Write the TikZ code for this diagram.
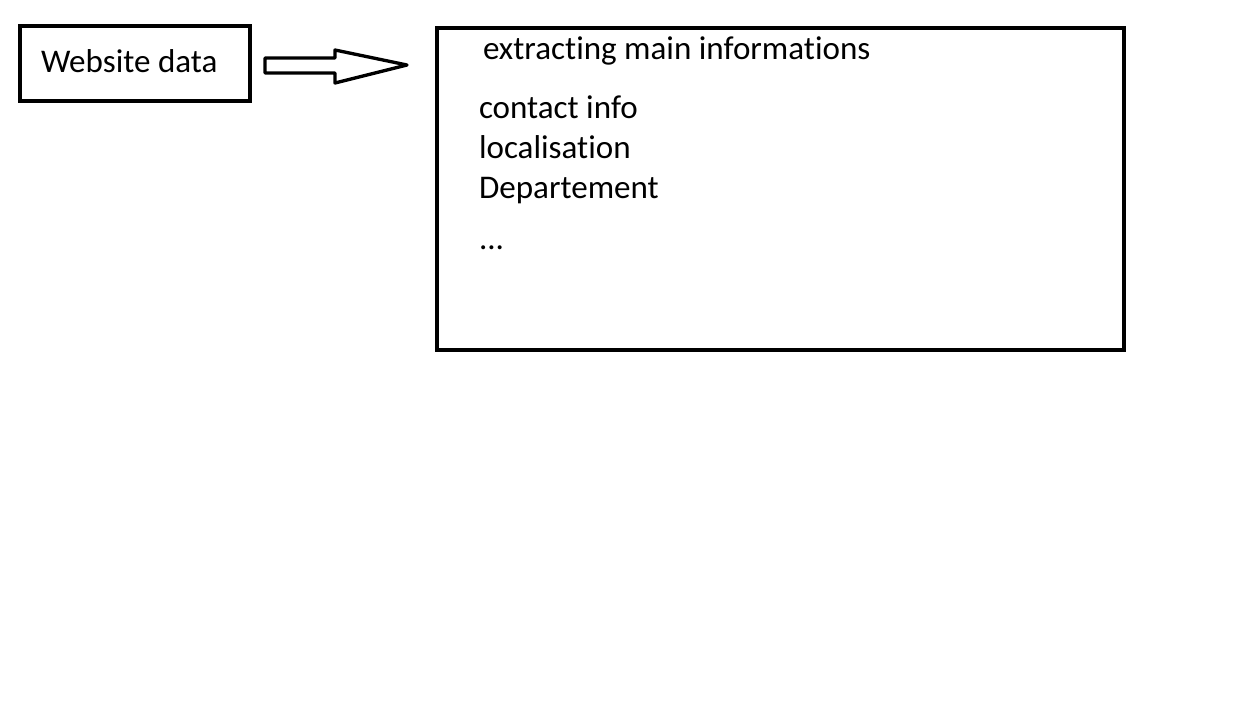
\documentclass[tikz,border=0pt]{standalone}
\usepackage{fontspec}
\setmainfont{Carlito}[Ligatures=NoCommon]
\usepackage{tikz}

\begin{document}
\begin{tikzpicture}[x=0.75pt, y=-0.75pt,
    every node/.style={font=\fontsize{24.8}{30}\selectfont, inner sep=0pt, outer sep=0pt},
    box/.style={draw, line width=3pt},
    label/.style={anchor=base west}]
        \useasboundingbox (0,0) rectangle (1260,708);
        % Website data
        \node[box, anchor=north west, minimum width=172.5pt, minimum height=56.25pt] (web) at (20,26) {};
        \node[label] (webtext) at (41,72) {Website data};
        % Extraction box
        \node[box, anchor=north west, minimum width=515.25pt, minimum height=241.5pt] (info) at (437,28) {};
        \node[label] (title) at (483,59) {extracting main informations};
        \node[label] (contact) at (479,118) {contact info};
        \node[label] (loc) at (479,158) {localisation};
        \node[label] (dept) at (479,198) {Departement};
        \node[label] (more) at (479,249) {...};
        % Block arrow
        \draw[line width=2.5pt, line join=round]
            (265,58) -- (335,58) -- (335,50) -- (407,65) -- (335,83) -- (335,73) -- (265,73) -- cycle;
      \end{tikzpicture}
\end{document}
